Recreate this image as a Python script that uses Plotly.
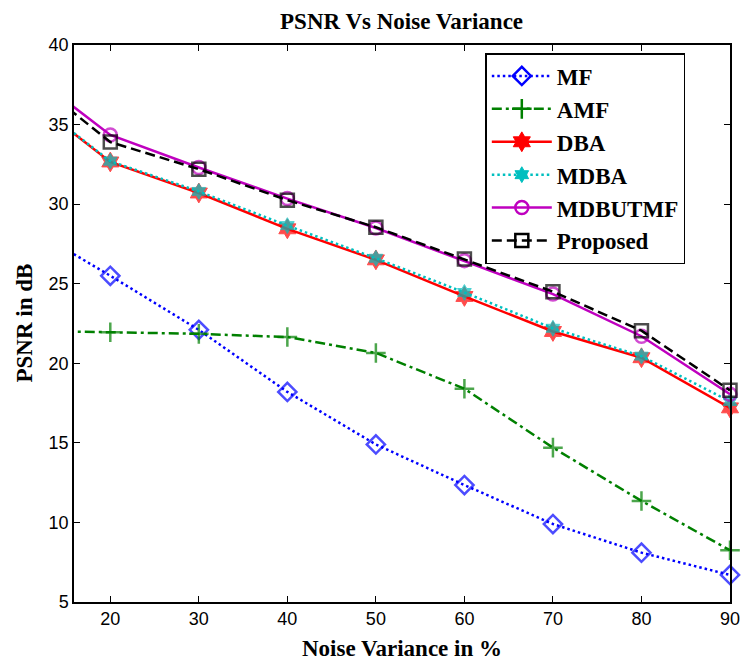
import plotly.graph_objects as go

noise = [10, 20, 30, 40, 50, 60, 70, 80, 90]
mf = [28.8, 25.5, 22.1, 18.2, 14.9, 12.35, 9.9, 8.1, 6.7]
amf = [22.05, 21.95, 21.85, 21.65, 20.65, 18.4, 14.7, 11.35, 8.25]
dba = [37.0, 32.65, 30.7, 28.45, 26.5, 24.2, 22.0, 20.35, 17.2]
mdba = [37.0, 32.7, 30.8, 28.65, 26.6, 24.45, 22.2, 20.45, 17.6]
mdbutmf = [38.6, 34.35, 32.3, 30.35, 28.5, 26.45, 24.35, 21.7, 18.05]
proposed = [38.35, 33.9, 32.2, 30.25, 28.55, 26.55, 24.5, 22.05, 18.3]

names = ["MF", "AMF", "DBA", "MDBA", "MDBUTMF", "Proposed"]
series = [mf, amf, dba, mdba, mdbutmf, proposed]

styles = [
    dict(color="#0000ff", dash="2.5px,3px", width=2.5, symbol="diamond-open", size=14, mlw=2.5),
    dict(color="#008000", dash="10px,4px,3px,4px", width=2.5, symbol="cross-thin-open", size=14, mlw=2.5),
    dict(color="#ff0000", dash="solid", width=2.5, symbol="hexagram", size=15, mlw=1),
    dict(color="#00bfbf", dash="2.5px,3px", width=2.5, symbol="hexagram", size=12, mlw=1),
    dict(color="#bf00bf", dash="solid", width=2.5, symbol="circle-open", size=13, mlw=2.5),
    dict(color="#000000", dash="10px,5px", width=2.5, symbol="square-open", size=13, mlw=2.5),
]

fig = go.Figure()
for name, ys, st in zip(names, series, styles):
    sizes = [0] + [st["size"]] * (len(noise) - 1)
    fig.add_trace(go.Scatter(
        x=noise, y=ys, mode="lines+markers", name=name, showlegend=False,
        cliponaxis=False,
        line=dict(color=st["color"], dash=st["dash"], width=st["width"]),
        marker=dict(symbol=st["symbol"], size=sizes, color=st["color"],
                    line=dict(color=st["color"], width=st["mlw"])),
    ))
for name, st in zip(names, styles):
    fig.add_trace(go.Scatter(
        x=[None], y=[None], mode="lines+markers", name="<b>" + name + "</b>", showlegend=True,
        line=dict(color=st["color"], dash=st["dash"], width=st["width"]),
        marker=dict(symbol=st["symbol"], size=st["size"], color=st["color"],
                    line=dict(color=st["color"], width=st["mlw"])),
    ))

axis_common = dict(
    showline=True, linecolor="black", linewidth=1.5, mirror="ticks",
    ticks="inside", ticklen=6, tickwidth=1.2, tickcolor="black",
    showgrid=False, zeroline=False,
    tickfont=dict(family="Liberation Sans", size=18, color="black"),
)

fig.update_layout(
    width=752, height=662,
    margin=dict(l=74, r=13, t=45, b=60),
    paper_bgcolor="white", plot_bgcolor="white",
    title=dict(text="<b>PSNR Vs Noise Variance</b>", x=0.534, xanchor="center",
               y=1 - 21 / 662, yanchor="middle", yref="container",
               font=dict(family="Liberation Serif", size=23, color="black")),
    xaxis=dict(range=[15.9, 90], tickvals=[20, 30, 40, 50, 60, 70, 80, 90], **axis_common),
    yaxis=dict(range=[5, 40], tickvals=[5, 10, 15, 20, 25, 30, 35, 40], **axis_common),
    legend=dict(x=0.627, y=0.9856, xanchor="left", yanchor="top",
                bgcolor="white", bordercolor="black", borderwidth=1.5,
                font=dict(family="Liberation Serif", size=23, color="black"),
                itemwidth=60),
    annotations=[
        dict(text="<b>Noise Variance in %</b>", xref="paper", yref="paper",
             x=0.5, y=0, yanchor="middle", xanchor="center", yshift=-46, showarrow=False,
             font=dict(family="Liberation Serif", size=23, color="black")),
        dict(text="<b>PSNR in dB</b>", xref="paper", yref="paper",
             x=0, y=0.5, xanchor="center", yanchor="middle", xshift=-50, textangle=-90,
             showarrow=False,
             font=dict(family="Liberation Serif", size=23, color="black")),
    ],
)

fig.write_html("out.html", config={"displayModeBar": False},
               post_script="document.body.style.margin='0';")
